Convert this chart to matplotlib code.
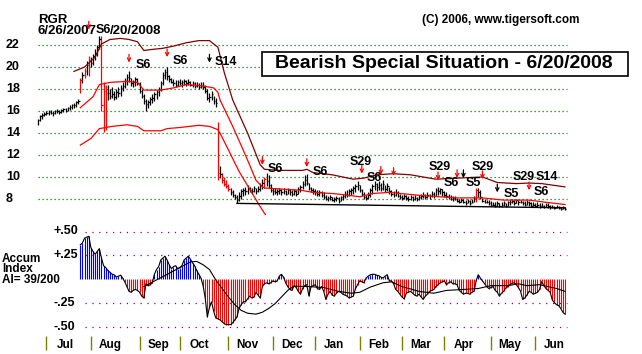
import numpy as np
import matplotlib
matplotlib.use("Agg")
import matplotlib.pyplot as plt
from matplotlib.transforms import blended_transform_factory
from matplotlib.patches import Rectangle

plt.rcParams['font.family'] = ['Liberation Sans', 'DejaVu Sans']

# ---- daily price bars, trading-day index 0 = 6/26/2007 ----
hi = [15.3, 15.6, 15.8, 15.9, 16.0, 16.1, 16.1, 16.0, 16.1, 16.2,
      16.1, 16.2, 16.3, 16.3, 16.4, 16.5, 16.6, 16.7, 16.9, 17.1,
      19.0, 19.5, 19.9, 20.5, 21.0, 20.9, 21.2, 21.6, 22.0, 22.8,
      22.8, 18.6, 18.4, 18.4, 18.0, 18.2, 17.8, 18.0, 18.2, 18.4,
      18.6, 19.0, 19.4, 19.6, 19.0, 18.8, 19.1, 19.0, 18.6, 18.0,
      17.5, 17.1, 17.0, 17.3, 17.5, 17.7, 17.9, 18.2, 18.7, 19.5,
      19.8, 20.0, 19.3, 19.0, 18.9, 18.8, 18.8, 18.9, 18.8, 18.9,
      18.8, 18.9, 18.7, 18.7, 18.6, 18.6, 18.5, 18.6, 18.6, 18.4,
      18.0, 17.6, 17.8, 17.4, 17.2, 15.0, 11.0, 10.4, 10.0, 9.7,
      9.4, 9.0, 8.8, 8.5, 8.4, 8.6, 8.9, 9.0, 9.1, 9.3,
      9.1, 9.0, 9.2, 9.0, 9.2, 9.5, 9.8, 10.0, 10.4, 10.2,
      9.4, 9.0, 9.0, 8.9, 9.0, 8.9, 9.0, 8.8, 9.0, 8.9,
      8.8, 8.9, 8.8, 9.1, 9.3, 9.6, 10.2, 10.3, 9.5, 9.1,
      9.0, 8.9, 8.8, 8.8, 8.7, 8.6, 8.4, 8.3, 8.4, 8.2,
      8.2, 8.3, 8.2, 8.3, 8.5, 8.7, 8.8, 8.9, 9.0, 9.2,
      9.4, 9.6, 9.3, 8.9, 8.6, 8.4, 8.6, 9.0, 9.4, 9.6,
      9.5, 9.6, 9.5, 9.7, 9.3, 9.5, 9.1, 8.8, 8.7, 8.9,
      8.7, 8.5, 8.4, 8.5, 8.4, 8.3, 8.4, 8.3, 8.4, 8.2,
      8.4, 8.5, 8.6, 8.5, 8.6, 8.5, 8.7, 8.6, 9.0, 9.1,
      9.0, 8.9, 8.7, 8.6, 8.5, 8.4, 8.3, 8.3, 8.1, 8.0,
      8.1, 8.0, 7.9, 8.0, 7.9, 8.0, 8.3, 9.0, 9.0, 8.8,
      8.1, 8.0, 7.9, 7.9, 7.8, 7.7, 7.7, 7.8, 7.6, 7.7,
      7.8, 7.6, 7.8, 7.9, 8.0, 7.9, 8.0, 7.9, 7.9, 7.8,
      7.8, 7.9, 7.8, 7.7, 7.7, 7.6, 7.7, 7.6, 7.6, 7.5,
      7.6, 7.6, 7.5, 7.5, 7.4, 7.5, 7.4, 7.3, 7.4, 7.3]
lo = [14.7, 15.1, 15.3, 15.5, 15.6, 15.6, 15.7, 15.5, 15.7, 15.8,
      15.7, 15.8, 15.9, 15.9, 16.0, 16.1, 16.2, 16.3, 16.4, 16.6,
      17.6, 18.5, 19.0, 19.3, 19.2, 20.0, 20.2, 20.6, 21.0, 21.6,
      16.0, 14.1, 14.3, 17.0, 17.1, 17.2, 17.0, 17.1, 17.3, 17.4,
      17.8, 18.1, 18.4, 18.6, 18.3, 18.2, 18.3, 18.4, 17.6, 17.2,
      16.6, 16.0, 16.3, 16.5, 16.7, 16.9, 17.1, 17.4, 17.8, 18.4,
      18.9, 18.8, 18.6, 18.5, 18.3, 18.2, 18.3, 18.4, 18.2, 18.4,
      18.3, 18.4, 18.3, 18.2, 18.1, 18.2, 18.0, 18.1, 18.0, 17.6,
      17.0, 16.8, 17.0, 16.6, 16.4, 9.7, 9.9, 9.5, 9.2, 9.0,
      8.7, 8.4, 8.2, 8.0, 7.6, 7.8, 8.0, 8.3, 8.4, 8.5,
      8.6, 8.5, 8.6, 8.5, 8.6, 8.7, 8.9, 9.0, 9.2, 9.0,
      8.6, 8.4, 8.5, 8.4, 8.5, 8.4, 8.5, 8.4, 8.5, 8.4,
      8.3, 8.4, 8.3, 8.5, 8.6, 8.9, 9.2, 9.3, 8.8, 8.6,
      8.5, 8.4, 8.3, 8.3, 8.2, 8.0, 7.9, 7.8, 7.9, 7.8,
      7.7, 7.8, 7.6, 7.8, 7.9, 8.1, 8.2, 8.3, 8.4, 8.5,
      8.6, 8.8, 8.6, 8.3, 8.0, 7.9, 8.0, 8.2, 8.5, 8.8,
      8.7, 8.8, 8.7, 8.8, 8.6, 8.7, 8.5, 8.3, 8.2, 8.3,
      8.2, 8.0, 7.9, 8.0, 7.9, 7.8, 7.9, 7.8, 7.9, 7.8,
      7.9, 8.0, 8.1, 8.0, 8.1, 8.0, 8.2, 8.1, 8.3, 8.4,
      8.5, 8.3, 8.2, 8.1, 8.0, 7.9, 7.8, 7.9, 7.7, 7.6,
      7.7, 7.6, 7.5, 7.6, 7.5, 7.6, 7.7, 7.7, 8.2, 8.0,
      7.7, 7.6, 7.6, 7.5, 7.4, 7.4, 7.3, 7.4, 7.3, 7.3,
      7.4, 7.3, 7.4, 7.5, 7.6, 7.5, 7.6, 7.5, 7.6, 7.5,
      7.4, 7.5, 7.4, 7.3, 7.4, 7.3, 7.3, 7.2, 7.3, 7.2,
      7.3, 7.2, 7.1, 7.2, 7.1, 7.2, 7.1, 7.0, 7.1, 7.0]
cl = [15.2, 15.5, 15.6, 15.7, 15.8, 15.9, 15.8, 15.8, 16.0, 16.0,
      15.9, 16.1, 16.2, 16.0, 16.3, 16.4, 16.5, 16.5, 16.8, 16.9,
      18.8, 19.3, 19.6, 20.2, 20.6, 20.4, 21.0, 21.3, 21.8, 22.5,
      16.5, 17.8, 17.6, 17.6, 17.4, 17.5, 17.3, 17.7, 17.6, 18.1,
      18.3, 18.7, 19.1, 19.0, 18.5, 18.6, 18.9, 18.5, 17.8, 17.4,
      16.9, 16.6, 16.8, 17.1, 17.2, 17.5, 17.7, 18.0, 18.5, 19.3,
      19.5, 19.2, 18.9, 18.6, 18.5, 18.4, 18.6, 18.5, 18.6, 18.7,
      18.5, 18.6, 18.4, 18.5, 18.3, 18.4, 18.2, 18.3, 18.2, 17.8,
      17.2, 17.3, 17.5, 16.9, 16.7, 10.4, 10.3, 9.7, 9.4, 9.2,
      8.9, 8.6, 8.4, 8.2, 7.9, 8.3, 8.7, 8.8, 8.7, 9.0,
      8.8, 8.7, 9.0, 8.7, 8.9, 9.3, 9.5, 9.8, 9.6, 9.3,
      8.8, 8.7, 8.6, 8.7, 8.8, 8.6, 8.7, 8.5, 8.8, 8.6,
      8.5, 8.7, 8.5, 8.9, 9.1, 9.4, 9.7, 9.5, 9.0, 8.8,
      8.7, 8.6, 8.5, 8.6, 8.4, 8.2, 8.0, 8.1, 8.2, 7.9,
      8.0, 8.1, 7.8, 8.2, 8.3, 8.5, 8.4, 8.7, 8.8, 9.0,
      9.2, 9.3, 8.8, 8.5, 8.2, 8.1, 8.4, 8.8, 9.2, 9.4,
      9.1, 9.3, 9.0, 9.4, 8.9, 9.2, 8.7, 8.5, 8.4, 8.6,
      8.3, 8.2, 8.1, 8.3, 8.1, 8.0, 8.2, 8.0, 8.1, 8.0,
      8.2, 8.3, 8.4, 8.2, 8.4, 8.3, 8.5, 8.3, 8.8, 8.7,
      8.9, 8.6, 8.4, 8.3, 8.2, 8.0, 8.1, 8.0, 7.8, 7.7,
      7.9, 7.7, 7.6, 7.8, 7.6, 7.7, 8.1, 8.8, 8.6, 8.2,
      7.8, 7.7, 7.7, 7.6, 7.5, 7.5, 7.4, 7.6, 7.4, 7.5,
      7.6, 7.4, 7.7, 7.7, 7.8, 7.6, 7.9, 7.7, 7.7, 7.6,
      7.5, 7.7, 7.6, 7.4, 7.5, 7.4, 7.5, 7.4, 7.4, 7.3,
      7.5, 7.4, 7.3, 7.3, 7.2, 7.3, 7.2, 7.1, 7.2, 7.1]
red_days = [20, 22, 24, 30, 31, 32, 85, 87, 88, 89, 90, 107, 207]

# ---- bands ----
ub_day = [17, 22, 27, 30, 34, 39, 43, 47, 50, 54, 59, 64, 70, 76, 81, 85, 88, 92, 99, 105,
          107, 114, 125, 127, 130, 139, 149, 154, 160, 168, 176, 188, 198, 210, 217, 226, 232, 238, 249]
ub_val = [19.6, 20.0, 20.9, 22.1, 22.5, 22.6, 22.5, 22.3, 21.5, 21.6, 21.7, 21.9, 22.2, 22.4, 22.4, 21.8, 19.5, 17.0, 14.0, 11.1,
          10.7, 10.6, 10.6, 10.7, 10.4, 10.2, 9.8, 9.9, 10.2, 10.3, 10.2, 9.8, 9.9, 10.0, 9.5, 9.4, 9.45, 9.4, 9.1]
ma_day = [20, 26, 29, 34, 42, 47, 50, 58, 64, 70, 77, 83, 85, 86, 92, 98, 103, 106, 107, 124,
          130, 139, 144, 152, 158, 166, 182, 198, 210, 220, 232, 240, 249]
ma_val = [16.3, 17.3, 18.4, 18.6, 18.7, 18.6, 17.9, 17.9, 18.1, 18.4, 18.3, 18.1, 17.7, 17.0, 14.6, 12.0, 9.7, 9.1, 9.0, 8.8,
          8.6, 8.5, 8.4, 8.2, 8.5, 8.6, 8.3, 8.1, 8.1, 7.9, 7.9, 7.7, 7.5]
lb_day = [20, 25, 29, 35, 42, 47, 50, 58, 61, 67, 76, 81, 85, 86, 95, 105, 108]
lb_val = [12.9, 13.5, 14.4, 14.6, 14.75, 14.6, 14.2, 14.2, 14.4, 14.5, 14.7, 14.6, 14.3, 14.0, 10.5, 7.3, 6.4]
sup_day = [94, 249]
sup_val = [7.6, 7.2]

# ---- signals ----
arr_day = [24, 43, 61, 81, 106, 127, 153, 162, 168, 189, 198, 201, 210, 217, 232]
arr_tip = [23.4, 20.4, 20.9, 20.4, 11.1, 10.9, 10.3, 10.2, 10.1, 9.7, 9.9, 9.9, 9.8, 8.6, 8.8]
arr_col = ['r', 'r', 'r', 'k', 'r', 'r', 'r', 'r', 'r', 'r', 'r', 'k', 'r', 'k', 'r']
sig_text = ['S6', 'S6', 'S6', 'S14', 'S6', 'S6', 'S29', 'S6', 'S29', 'S6', 'S29', 'S5', 'S5', 'S29', 'S14', 'S6']
sig_day = [31, 49.6, 67.3, 88.8, 112, 133.4, 152.6, 159, 189.6, 195.3, 210.2, 205.7, 223.7, 229.4, 240.4, 238]
sig_price = [23.4, 20.2, 20.5, 20.45, 10.7, 10.45, 11.4, 9.9, 10.9, 9.45, 10.9, 9.45, 8.45, 10.0, 10.0, 8.6]

# ---- accumulation index, starts at day 20 ----
ai_start = 20
ai = [0.36, 0.38, 0.43, 0.44, 0.45, 0.33, 0.29, 0.26, 0.29, 0.32,
      0.22, 0.14, 0.12, 0.09, 0.07, 0.05, 0.045, 0.02, 0.03, 0.04,
      0.01, -0.03, -0.08, -0.13, -0.14, -0.12, -0.11, -0.12, -0.14, -0.18,
      -0.20, -0.05, -0.07, -0.06, -0.04, 0.05, 0.10, 0.13, 0.20, 0.22,
      0.24, 0.20, 0.15, 0.11, 0.13, 0.14, 0.11, 0.12, 0.14, 0.20,
      0.22, 0.24, 0.21, 0.17, 0.14, 0.09, 0.05, 0.01, -0.07, -0.20,
      -0.40, -0.30, -0.24, -0.34, -0.41, -0.42, -0.43, -0.45, -0.47, -0.48,
      -0.48, -0.48, -0.46, -0.43, -0.40, -0.31, -0.27, -0.24, -0.24, -0.21,
      -0.18, -0.20, -0.19, -0.14, -0.17, -0.20, -0.08, -0.05, -0.04, -0.05,
      -0.04, -0.02, -0.03, -0.02, 0.03, 0.05, 0.02, -0.04, -0.08, -0.11,
      -0.12, -0.07, -0.09, -0.13, -0.16, -0.10, -0.07, -0.06, -0.18, -0.08,
      -0.07, -0.06, -0.10, -0.11, -0.08, -0.13, -0.215, -0.16, -0.13, -0.17,
      -0.18, -0.15, -0.13, -0.14, -0.16, -0.17, -0.18, -0.20, -0.19, -0.18,
      -0.10, -0.06, -0.02, -0.03, -0.04, 0.01, 0.03, 0.045, 0.05, 0.05,
      0.04, 0.035, 0.02, 0.01, 0.03, 0.045, -0.02, -0.02, -0.05, -0.11,
      -0.13, -0.16, -0.19, -0.21, -0.15, -0.14, -0.13, -0.15, -0.17, -0.18,
      -0.16, -0.19, -0.215, -0.18, -0.16, -0.13, -0.12, -0.11, -0.08, -0.06,
      -0.04, -0.03, -0.02, -0.06, -0.04, -0.03, -0.05, -0.05, -0.06, -0.12,
      -0.14, -0.16, -0.15, -0.15, -0.16, -0.14, -0.13, -0.02, 0.045, 0.01,
      -0.02, -0.05, -0.08, -0.10, -0.09, -0.08, -0.12, -0.14, -0.18, -0.15,
      -0.13, -0.095, -0.08, -0.06, -0.045, -0.04, -0.06, -0.09, -0.13, -0.215,
      -0.20, -0.17, -0.13, -0.14, -0.16, -0.15, -0.14, -0.11, -0.025, -0.07,
      -0.10, -0.12, -0.14, -0.22, -0.25, -0.27, -0.28, -0.31, -0.35, -0.37]
aima_day = [50, 62, 72, 75, 78, 81, 84, 87, 90, 93, 96, 99, 103, 106, 109, 112, 115, 118, 121, 128,
            135, 142, 148, 152, 157, 163, 167, 172, 180, 187, 193, 201, 208, 214, 222, 227, 231, 237, 241, 245, 249]
aima_val = [-0.08, 0.06, 0.18, 0.185, 0.15, 0.10, -0.01, -0.10, -0.19, -0.27, -0.33, -0.36, -0.37, -0.35, -0.31, -0.26, -0.19, -0.12, -0.075, -0.08,
            -0.09, -0.13, -0.15, -0.14, -0.085, -0.04, -0.03, -0.08, -0.13, -0.15, -0.12, -0.11, -0.10, -0.07, -0.07, -0.05, -0.07, -0.06, -0.08, -0.10, -0.13]

months = ['Jul', 'Aug', 'Sep', 'Oct', 'Nov', 'Dec', 'Jan', 'Feb', 'Mar', 'Apr', 'May', 'Jun']
month_start = [4, 25, 48, 67, 90, 111, 131, 152, 172, 192, 214, 235]
price_ticks = [8, 10, 12, 14, 16, 18, 20, 22]
ai_ticks = [0.5, 0.25, -0.25, -0.5]
ai_tick_labels = ['+.50', '+.25', '-.25', '-.50']

# ---- layout (pixel based) ----
W, H = 642, 354
X0, PXD = 38, 2.1165
def rect(xl, xr, yt, yb):
    return [xl / W, 1 - yb / H, (xr - xl) / W, (yb - yt) / H]
XL, XR = 30, 575
xlim = ((XL - X0) / PXD, (XR - X0) / PXD)

fig = plt.figure(figsize=(6.42, 3.54), dpi=100)
fig.patch.set_facecolor('white')

ax1 = fig.add_axes(rect(XL, XR, 15, 215))
ax1.set_xlim(*xlim); ax1.set_ylim(22 - 170 / 11, 22 + 30 / 11); ax1.axis('off')
ax2 = fig.add_axes(rect(XL, XR, 222, 335))
ax2.set_xlim(*xlim); ax2.set_ylim(-56 / 95, 57 / 95); ax2.axis('off')
ax3 = fig.add_axes(rect(XL, XR, 335, 354))
ax3.set_xlim(*xlim); ax3.set_ylim(0, 1); ax3.axis('off')

B = dict(fontweight='bold', color='black')

# price panel
ax1.hlines(price_ticks, 0, 250, colors='#008000', linestyles=(0, (1, 2.2)), lw=0.9)
tr1 = blended_transform_factory(fig.transFigure, ax1.transData)
for p in price_ticks:
    ax1.text(6 / W, p, str(p), transform=tr1, ha='left', va='center', fontsize=9, **B)

days = np.arange(len(cl))
cols = ['red' if d in red_days else 'black' for d in days]
ax1.vlines(days, lo, hi, colors=cols, lw=0.9)
ax1.hlines(cl, days, days + 0.7, colors=cols, lw=0.9)
ax1.plot(ub_day, ub_val, color='#800000', lw=0.9)
ax1.plot(ma_day, ma_val, color='#ff0000', lw=0.9)
ax1.plot(lb_day, lb_val, color='#ff0000', lw=0.9)
ax1.plot(sup_day, sup_val, color='black', lw=1.0)

for d, t, c in zip(arr_day, arr_tip, arr_col):
    ax1.annotate('', xy=(d, t), xytext=(d, t + 0.75),
                 arrowprops=dict(arrowstyle='->', color='red' if c == 'r' else 'black',
                                 lw=0.9, shrinkA=0, shrinkB=0, mutation_scale=6),
                 annotation_clip=False)
for s, d, p in zip(sig_text, sig_day, sig_price):
    ax1.text(d, p, s, ha='center', va='center', fontsize=9, clip_on=False, **B)

# accumulation panel
ax2.hlines(ai_ticks, 22, 250, colors='#990066', linestyles=(0, (1, 4.5)), lw=0.9)
tr2 = blended_transform_factory(fig.transFigure, ax2.transData)
for v, lab in zip(ai_ticks, ai_tick_labels):
    ax2.text(53 / W, v, lab, transform=tr2, ha='left', va='center', fontsize=9, **B)
ai_days = np.arange(ai_start, ai_start + len(ai))
ai_cols = ['#0000ff' if v >= 0 else '#ff0000' for v in ai]
ax2.vlines(ai_days, 0, ai, colors=ai_cols, lw=0.8)
ax2.plot(ai_days, ai, color='black', lw=0.8)
ax2.plot(aima_day, aima_val, color='black', lw=0.8)

# months
ax3.vlines(month_start, 0.22, 0.94, colors='#808000', lw=1.0)
for m, d in zip(months, month_start):
    ax3.text(d + 9, 0.45, m, ha='center', va='center', fontsize=8.5, **B)

# header texts (the first S6 signal sits between the two dates)
fig.text(38 / W, 1 - 20 / H, 'RGR', ha='left', va='center', fontsize=9.5, **B)
fig.text(38 / W, 1 - 31 / H, '6/26/2007', ha='left', va='center', fontsize=9.5, **B)
fig.text(110 / W, 1 - 31 / H, '/20/2008', ha='left', va='center', fontsize=9.5, **B)
fig.text(501 / W, 1 - 20 / H, '(C) 2006, www.tigersoft.com', ha='center', va='center', fontsize=8.5, **B)
fig.patches.append(Rectangle((262 / W, 1 - 76 / H), 366 / W, 24 / H, transform=fig.transFigure,
                             facecolor='white', edgecolor='black', lw=1.2))
fig.text(444 / W, 1 - 64 / H, 'Bearish Special Situation - 6/20/2008', ha='center', va='center',
         fontsize=14, **B)
for i, s in enumerate(['Accum', 'Index', 'AI= 39/200']):
    fig.text(2 / W, 1 - (259 + 10.5 * i) / H, s, ha='left', va='center', fontsize=8.5, **B)

fig.savefig('out.png', dpi=100, facecolor='white')
